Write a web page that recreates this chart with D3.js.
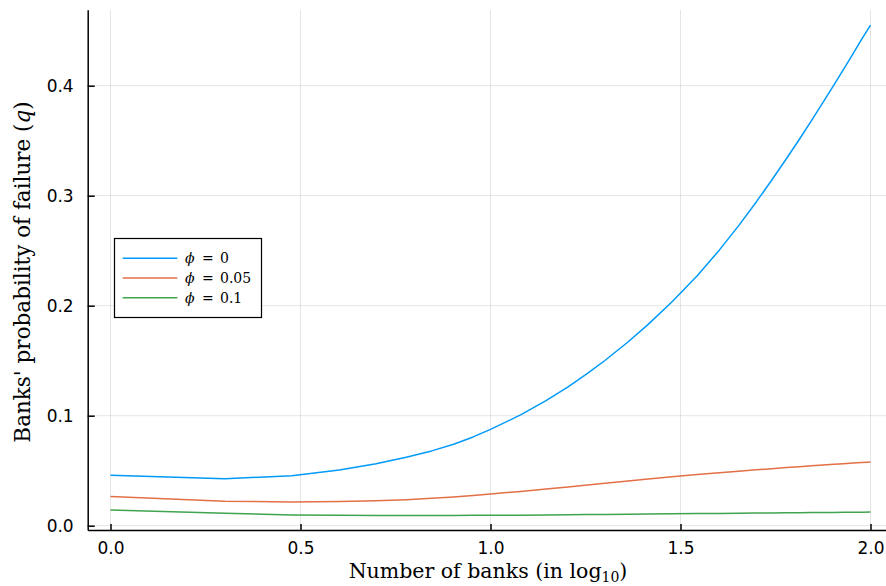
<!DOCTYPE html>
<html>
<head>
<meta charset="utf-8">
<script src="https://cdn.jsdelivr.net/npm/d3@7"></script>
<style>
  html, body { margin: 0; padding: 0; background: #fff; }
  svg { display: block; }
</style>
</head>
<body>
<svg id="chart" width="886" height="586"></svg>
<script>
// ---- data (number of banks N; x axis is log10 N) ----
const banksN = [1, 2, 3, 4, 5, 6, 7, 8, 9, 10, 12, 14, 16, 18, 20, 23, 26, 30, 35, 40, 45, 50,
                55, 60, 65, 70, 75, 80, 85, 90, 95, 100];
const qPhi0 = [0.0458, 0.0426, 0.0455, 0.0506, 0.0563, 0.0622, 0.0680, 0.0740, 0.0807, 0.0876,
               0.1007, 0.1137, 0.1263, 0.1385, 0.1502, 0.1670, 0.1830, 0.2033, 0.2272, 0.2505, 0.2728, 0.2941,
               0.3143, 0.3334, 0.3513, 0.3685, 0.3848, 0.4003, 0.4151, 0.4292, 0.4427, 0.4550];
const qPhi005 = [0.0265, 0.0222, 0.0216, 0.0219, 0.0226, 0.0236, 0.0249, 0.0262, 0.0275, 0.0288,
                 0.0312, 0.0333, 0.0351, 0.0369, 0.0385, 0.0407, 0.0425, 0.0445, 0.0465, 0.0482, 0.0495, 0.0508,
                 0.0518, 0.0528, 0.0536, 0.0544, 0.0551, 0.0558, 0.0563, 0.0569, 0.0574, 0.0579];
const qPhi01 = [0.0142, 0.0113, 0.0098, 0.0094, 0.0093, 0.0093, 0.0093, 0.0093, 0.0094, 0.0095,
                0.0096, 0.0098, 0.0099, 0.0101, 0.0102, 0.0104, 0.0106, 0.0108, 0.0110, 0.0112, 0.0113, 0.0115,
                0.0116, 0.0117, 0.0118, 0.0119, 0.0120, 0.0121, 0.0122, 0.0123, 0.0123, 0.0124];
const seriesNames = ["0", "0.05", "0.1"];
const seriesColors = ["#009AFA", "#E36F47", "#3EA44E"];
const xTicks = [0, 0.5, 1.0, 1.5, 2.0];
const yTicks = [0, 0.1, 0.2, 0.3, 0.4];

const series = [qPhi0, qPhi005, qPhi01];

const svg = d3.select("#chart");
const x = d3.scaleLinear().domain([-0.06, 2.06]).range([87.7, 893.3]);
const y = d3.scaleLinear().domain([-0.004, 0.469]).range([530.1, 9.8]);

const tickFont = "'DejaVu Sans', sans-serif";
const mathFont = "'DejaVu Serif', 'Liberation Serif', serif";

// grid
const grid = svg.append("g");
grid.selectAll("line.vx").data(xTicks).join("line")
  .attr("x1", d => x(d)).attr("x2", d => x(d))
  .attr("y1", y.range()[0]).attr("y2", y.range()[1])
  .attr("stroke", "#000").attr("stroke-opacity", 0.1).attr("stroke-width", 1);
grid.selectAll("line.hy").data(yTicks).join("line")
  .attr("x1", x.range()[0]).attr("x2", x.range()[1])
  .attr("y1", d => y(d)).attr("y2", d => y(d))
  .attr("stroke", "#000").attr("stroke-opacity", 0.1).attr("stroke-width", 1);

// lines
const line = d3.line()
  .x((d, i) => x(Math.log10(banksN[i])))
  .y(d => y(d));
svg.append("g").selectAll("path").data(series).join("path")
  .attr("d", d => line(d))
  .attr("fill", "none")
  .attr("stroke", (d, i) => seriesColors[i])
  .attr("stroke-width", 1.5)
  .attr("stroke-linejoin", "round");

// axes
const xAxis = d3.axisBottom(x).tickValues(xTicks).tickFormat(d3.format(".1f"))
  .tickSizeInner(-6).tickSizeOuter(0).tickPadding(12);
const yAxis = d3.axisLeft(y).tickValues(yTicks).tickFormat(d3.format(".1f"))
  .tickSizeInner(-7).tickSizeOuter(0).tickPadding(14);

const gx = svg.append("g").attr("transform", `translate(0,${y.range()[0]})`).call(xAxis);
const gy = svg.append("g").attr("transform", `translate(${x.range()[0]},0)`).call(yAxis);
[gx, gy].forEach(g => {
  g.select(".domain").attr("stroke", "#000").attr("stroke-width", 1.5);
  g.selectAll(".tick line").attr("stroke", "#000").attr("stroke-width", 1.5);
  g.selectAll(".tick text").attr("font-family", tickFont).attr("font-size", 17).attr("fill", "#000");
});

// axis labels
const xl = svg.append("text")
  .attr("x", 488).attr("y", 578)
  .attr("text-anchor", "middle")
  .attr("font-family", mathFont).attr("font-size", 20.5).attr("fill", "#000");
xl.append("tspan").text("Number of banks (in log");
xl.append("tspan").attr("font-size", 14).attr("dy", 4).text("10");
xl.append("tspan").attr("dy", -4).text(")");

const yl = svg.append("text")
  .attr("transform", "translate(30,272) rotate(-90)")
  .attr("text-anchor", "middle")
  .attr("font-family", mathFont).attr("font-size", 21.5).attr("fill", "#000");
yl.append("tspan").text("Banks' probability of failure (");
yl.append("tspan").attr("font-style", "italic").text("q");
yl.append("tspan").text(")");

// legend
const lg = svg.append("g");
lg.append("rect").attr("x", 114.5).attr("y", 238.5).attr("width", 147).attr("height", 79)
  .attr("fill", "#fff").attr("stroke", "#000").attr("stroke-width", 1.2);
const rows = lg.selectAll("g.row").data(seriesNames).join("g")
  .attr("transform", (d, i) => `translate(0,${258.3 + i * 19.7})`);
rows.append("line").attr("x1", 122.7).attr("x2", 177.3).attr("y1", 0).attr("y2", 0)
  .attr("stroke", (d, i) => seriesColors[i]).attr("stroke-width", 1.5);
const lt = rows.append("text").attr("y", 5)
  .attr("font-family", mathFont).attr("font-size", 14).attr("fill", "#000");
lt.append("tspan").attr("x", 185).attr("font-style", "italic").text("ϕ");
lt.append("tspan").attr("x", 202).text("=");
lt.append("tspan").attr("x", 220).text(d => d);
</script>
</body>
</html>
